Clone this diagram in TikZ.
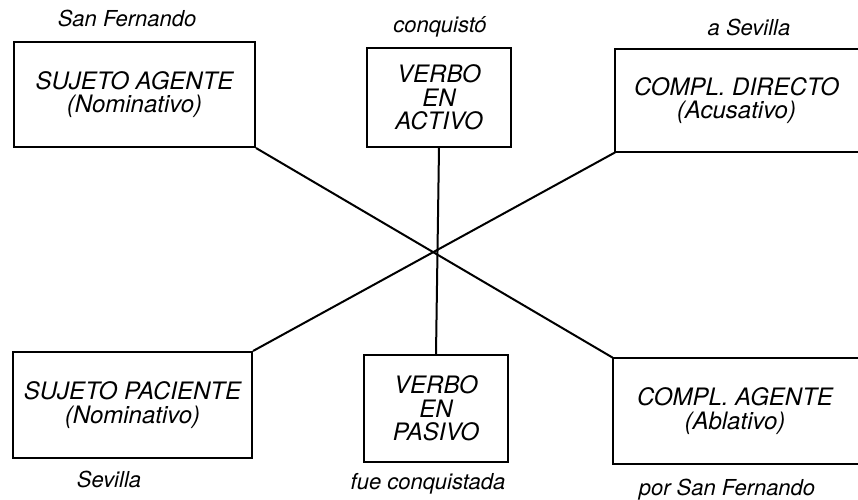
\documentclass[tikz,border=0pt]{standalone}
\usepackage{fontspec}
\setmainfont{TeX Gyre Heros}
\begin{document}
\begin{tikzpicture}[x=0.5pt,y=-0.5pt,
  box/.style={draw, line width=1pt, inner sep=0pt, align=center,
    font=\itshape\fontsize{12}{11.8}\selectfont},
  openbox/.style={inner sep=0pt, align=center, font=\itshape\fontsize{12}{11.8}\selectfont},
  frame/.style={line width=1pt},
  lbl/.style={anchor=base, inner sep=0pt, font=\itshape\fontsize{11}{12}\selectfont}]
\useasboundingbox (0,0) rectangle (858,499);
\node[box, minimum width=120.5pt, minimum height=52.5pt] (b1) at (134.5,94.5) {SUJETO AGENTE\\(Nominativo)};
\node[box, minimum width=72pt, minimum height=49.5pt] (b2) at (439,97.5) {VERBO\\EN\\ACTIVO};
\node[openbox, minimum width=121pt, minimum height=51.5pt] (b3) at (736.5,100.5) {COMPL. DIRECTO\\(Acusativo)};
\draw[frame] ([xshift=20pt]b3.north east) -- (b3.north west) -- (b3.south west) -- ([xshift=20pt]b3.south east);
\node[box, minimum width=119.5pt, minimum height=53pt] (b4) at (132.5,405) {SUJETO PACIENTE\\(Nominativo)};
\node[box, minimum width=72pt, minimum height=53.5pt] (b5) at (436,408.5) {VERBO\\EN\\PASIVO};
\node[openbox, minimum width=122pt, minimum height=53pt] (b6) at (735,411) {COMPL. AGENTE\\(Ablativo)};
\draw[frame] ([xshift=20pt]b6.north east) -- (b6.north west) -- (b6.south west) -- ([xshift=20pt]b6.south east);
\draw[line width=1pt] (b1.south east) -- (b6.north west);
\draw[line width=1pt] (b3.south west) -- (b4.north east);
\draw[line width=1pt] (b2.south) -- (b5.north);
\node[lbl] (l1) at (127,26) {San Fernando};
\node[lbl] (l2) at (440,32) {conquistó};
\node[lbl] (l3) at (749,35) {a Sevilla};
\node[lbl] (l4) at (109,487) {Sevilla};
\node[lbl] (l5) at (428,489) {fue conquistada};
\node[lbl] (l6) at (727,495) {por San Fernando};
\end{tikzpicture}
\end{document}
